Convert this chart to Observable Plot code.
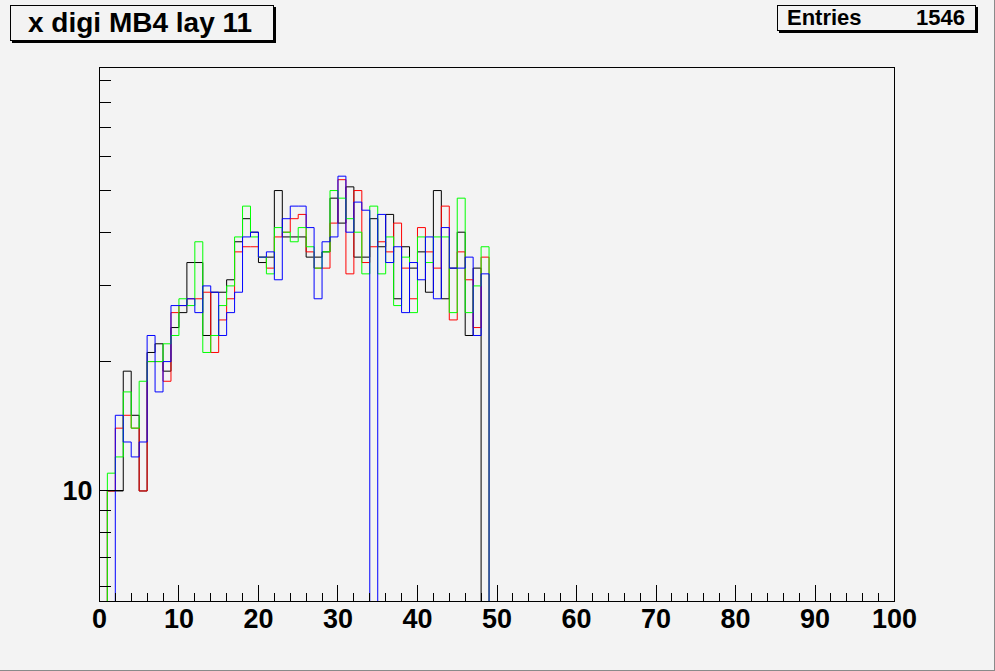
<!DOCTYPE html>
<html>
<head>
<meta charset="utf-8">
<script src="https://cdn.jsdelivr.net/npm/d3@7"></script>
<script src="https://cdn.jsdelivr.net/npm/@observablehq/plot@0.6"></script>
<style>
  html, body { margin: 0; padding: 0; background: #f3f3f3; }
  #wrap { position: relative; width: 995px; height: 671px; overflow: hidden; background: #f3f3f3;
          box-sizing: border-box; border-right: 1px solid #8a8a8a; border-bottom: 1px solid #8a8a8a; }
  #chart { position: absolute; left: 0; top: 0; }
  #chart svg path, #chart svg rect, #chart svg line { shape-rendering: crispEdges; }
  .box { position: absolute; box-sizing: border-box; background: #f3f3f3; border: 1px solid #000;
         box-shadow: 2px 2px 0 #000; font-family: "Liberation Sans", Arial, sans-serif; font-weight: bold; color: #000; }
  #title { left: 10px; top: 5px; width: 264px; height: 36px; font-size: 28px; line-height: 34px; padding-left: 17px; white-space: nowrap; }
  #stats { left: 777px; top: 5px; width: 199px; height: 26px; font-size: 22px; line-height: 24px; }
  #stats .k { position: absolute; left: 9px; top: 0; }
  #stats .v { position: absolute; right: 10px; top: 0; }
</style>
</head>
<body>
<div id="wrap">
  <div id="chart"></div>
  <div class="box" id="title">x digi MB4 lay 11</div>
  <div class="box" id="stats"><span class="k">Entries</span><span class="v">1546</span></div>
</div>
<script>
// ---- data: bin contents, bins [k, k+1) for k = 0..49 (bins 50..99 are empty) ----
const binLowEdges = d3.range(0, 50);
const blackCounts = [0, 10, 10, 19, 15, 10, 21, 22, 19, 24, 26, 34, 34, 23, 29, 29, 31, 38, 43, 40,
                     34, 35, 50, 39, 39, 39, 35, 35, 36, 48, 42, 51, 35, 35, 43, 37, 44, 28, 37, 33,
                     36, 29, 50, 28, 33, 40, 23, 33, 0, 0];
const redCounts   = [0, 10, 14, 15, 14, 10, 20, 20, 18, 26, 27, 28, 28, 29, 21, 25, 28, 36, 37, 37,
                     35, 33, 39, 40, 43, 44, 36, 33, 33, 42, 53, 32, 50, 34, 37, 38, 36, 42, 33, 28,
                     41, 36, 33, 46, 25, 36, 31, 24, 35, 0];
const greenCounts = [0, 11, 12, 17, 14, 18, 20, 20, 22, 23, 28, 27, 38, 21, 23, 27, 30, 39, 46, 39,
                     35, 32, 41, 40, 38, 41, 37, 33, 36, 50, 48, 43, 40, 32, 46, 32, 39, 27, 35, 26,
                     39, 34, 39, 39, 26, 48, 26, 30, 37, 0];
const blueCounts  = [0, 0, 15, 13, 12, 13, 23, 17, 20, 27, 27, 28, 26, 30, 29, 23, 26, 29, 39, 40,
                     35, 36, 31, 43, 46, 46, 41, 28, 38, 39, 54, 40, 47, 45, 0, 44, 34, 37, 26, 34,
                     31, 39, 28, 41, 33, 33, 35, 23, 32, 0];
const seriesNames  = ["black", "red", "green", "blue"];
const seriesColors = ["#000000", "#ff0000", "#00ff00", "#0000ff"];
const xTickLabels = [0, 10, 20, 30, 40, 50, 60, 70, 80, 90, 100];
const xMinorTicks = d3.range(0, 101, 2);
const yMajorTicks = [10];
const yMinorTicks = [6, 7, 8, 9, 20, 30, 40, 50, 60, 70, 80, 90];

const xDomain = [0, 100];
const yDomain = [5.52, 96.7];

const allCounts = [blackCounts, redCounts, greenCounts, blueCounts];
// outline points of each histogram (empty bins drawn on the lower edge, as in a log-scale ROOT plot)
function outline(counts) {
  const pts = [];
  counts.forEach((c, i) => {
    const v = c > 0 ? c : yDomain[0];
    pts.push({x: binLowEdges[i], y: v}, {x: binLowEdges[i] + 1, y: v});
  });
  return pts;
}

const font = '"Liberation Sans", Arial, sans-serif';
const plot = Plot.plot({
  width: 995,
  height: 671,
  marginLeft: 99,
  marginRight: 100,
  marginTop: 67,
  marginBottom: 69,
  style: {background: "transparent", fontFamily: font, overflow: "visible"},
  x: {domain: xDomain, label: null},
  y: {type: "log", domain: yDomain, label: null},
  marks: [
    ...allCounts.map((counts, i) =>
      Plot.line(outline(counts), {x: "x", y: "y", stroke: seriesColors[i], strokeWidth: 1, clip: true,
                                  shapeRendering: "crispEdges"})),
    Plot.frame({stroke: "#000", strokeWidth: 1, shapeRendering: "crispEdges"}),
    Plot.axisX({anchor: "bottom", label: null, ticks: xMinorTicks, tickSize: -8, tickFormat: () => "", stroke: "#000"}),
    Plot.axisX({anchor: "bottom", label: null, ticks: xTickLabels, tickSize: -16, tickPadding: 23, tickFormat: d => String(d),
                fontSize: 27, fontWeight: "bold", fill: "#000", stroke: "#000"}),
    Plot.axisY({anchor: "left", label: null, ticks: yMinorTicks, tickSize: -12, tickFormat: () => "", stroke: "#000"}),
    Plot.axisY({anchor: "left", label: null, ticks: yMajorTicks, tickSize: -24, tickPadding: 31, tickFormat: d => String(d),
                fontSize: 27, fontWeight: "bold", fill: "#000", stroke: "#000"})
  ]
});
document.getElementById("chart").appendChild(plot);
</script>
</body>
</html>
